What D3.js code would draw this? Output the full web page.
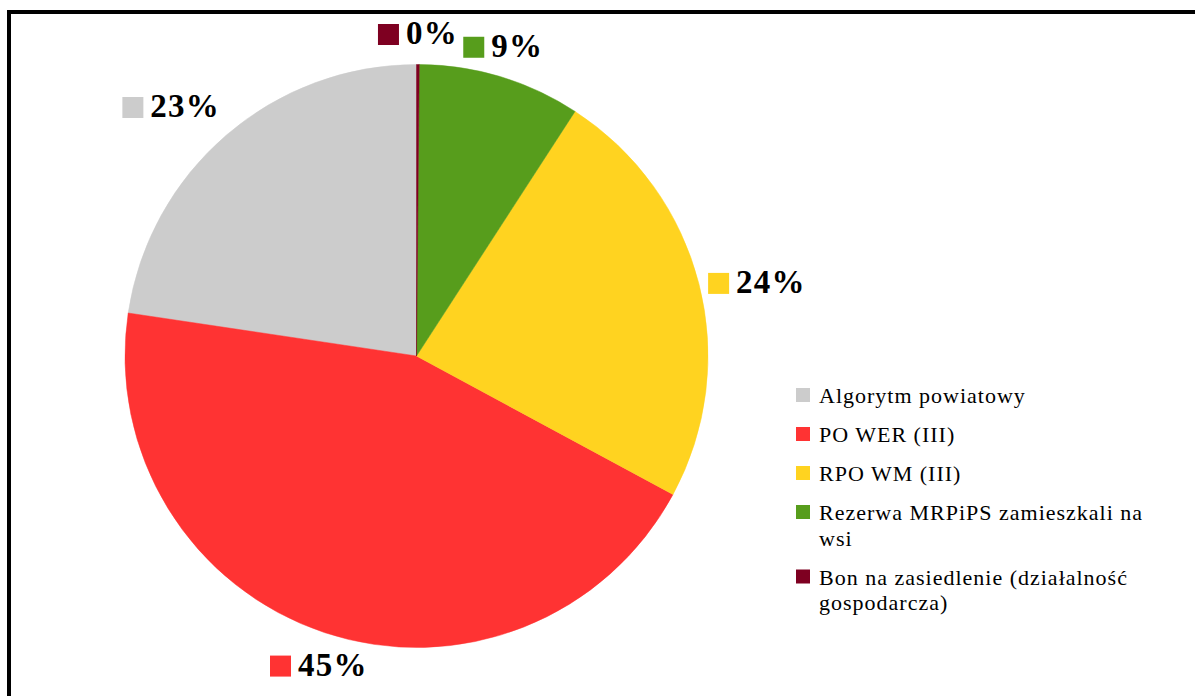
<!DOCTYPE html>
<html>
<head>
<meta charset="utf-8">
<script src="https://cdn.jsdelivr.net/npm/d3@7"></script>
<style>
  html, body { margin: 0; padding: 0; background: #fff; }
  svg { display: block; }
</style>
</head>
<body>
<svg id="chart" width="1195" height="696"></svg>
<script>
const categories = [
  "Algorytm powiatowy",
  "PO WER (III)",
  "RPO WM (III)",
  "Rezerwa MRPiPS zamieszkali na wsi",
  "Bon na zasiedlenie (działalność gospodarcza)"
];
const values = [22.64, 44.47, 23.72, 9.0, 0.15];
const valueLabels = ["23%", "45%", "24%", "9%", "0%"];
const colors = ["#cccccc", "#ff3333", "#ffd320", "#579d1c", "#7e0021"];

const W = 1195, H = 696;
const svg = d3.select("#chart");

// frame
svg.append("rect")
  .attr("x", 9).attr("y", 12)
  .attr("width", W + 20).attr("height", H + 20)
  .attr("fill", "#fff").attr("stroke", "#000").attr("stroke-width", 4);

const cx = 416.5, cy = 356, r = 291.5;
const data = categories.map((c, i) => ({ name: c, value: values[i], label: valueLabels[i], color: colors[i] }));

const pie = d3.pie().sort(null).value(d => d.value)
  .startAngle(2 * Math.PI).endAngle(0);
const arcs = pie(data);
const arc = d3.arc().innerRadius(0).outerRadius(r);

const g = svg.append("g").attr("transform", `translate(${cx},${cy})`);
g.selectAll("path").data(arcs).join("path")
  .attr("d", arc)
  .attr("fill", d => d.data.color)
  .attr("stroke", d => d.data.color)
  .attr("stroke-width", 0.5);

// data labels
const labelFont = "bold 33px 'Liberation Serif', 'Times New Roman', serif";
const sq = 21, gap = 7, halfH = 22.5;
const lg = svg.append("g");
const ramp = v => Math.sign(v) * Math.max(0, Math.min(1, (Math.abs(v) - 0.3) / 0.3));
arcs.forEach(a => {
  const mid = (a.startAngle + a.endAngle) / 2;
  const s = Math.sin(mid), c = Math.cos(mid);
  const R = r + 9.5;
  const ax = cx + R * s, ay = cy - R * c;
  const t = lg.append("text")
    .style("font", labelFont)
    .style("letter-spacing", "1.2px")
    .attr("fill", "#000")
    .text(a.data.label);
  const tw = t.node().getComputedTextLength();
  const w = sq + gap + tw;
  const hf = ramp(s), vf = ramp(c);
  const bx = ax + hf * w / 2;
  const baseline = ay - vf * halfH + 11.5;
  const left = bx - w / 2;
  lg.append("rect")
    .attr("x", left).attr("y", baseline - sq + 1)
    .attr("width", sq).attr("height", sq)
    .attr("fill", a.data.color);
  t.attr("x", left + sq + gap).attr("y", baseline);
});

// legend
const legFont = "22px 'Liberation Serif', 'Times New Roman', serif";
const legX = 796, legY0 = 403, lineH = 25.5, entryGap = 13.5, wrapW = 335;
const leg = svg.append("g");
let y = legY0;
data.forEach(d => {
  leg.append("rect")
    .attr("x", legX).attr("y", y - 15)
    .attr("width", 14).attr("height", 14)
    .attr("fill", d.color);
  const words = d.name.split(" ");
  const lines = [];
  let cur = [];
  const probe = leg.append("text").style("font", legFont).style("letter-spacing", "1px");
  words.forEach(wd => {
    const test = cur.concat([wd]).join(" ");
    probe.text(test);
    if (probe.node().getComputedTextLength() > wrapW && cur.length) {
      lines.push(cur.join(" "));
      cur = [wd];
    } else cur.push(wd);
  });
  lines.push(cur.join(" "));
  probe.remove();
  lines.forEach((ln, i) => {
    leg.append("text")
      .style("font", legFont)
      .style("letter-spacing", "1px")
      .attr("x", 819).attr("y", y + i * lineH)
      .attr("fill", "#000")
      .text(ln);
  });
  y += lines.length * lineH + entryGap;
});
</script>
</body>
</html>
